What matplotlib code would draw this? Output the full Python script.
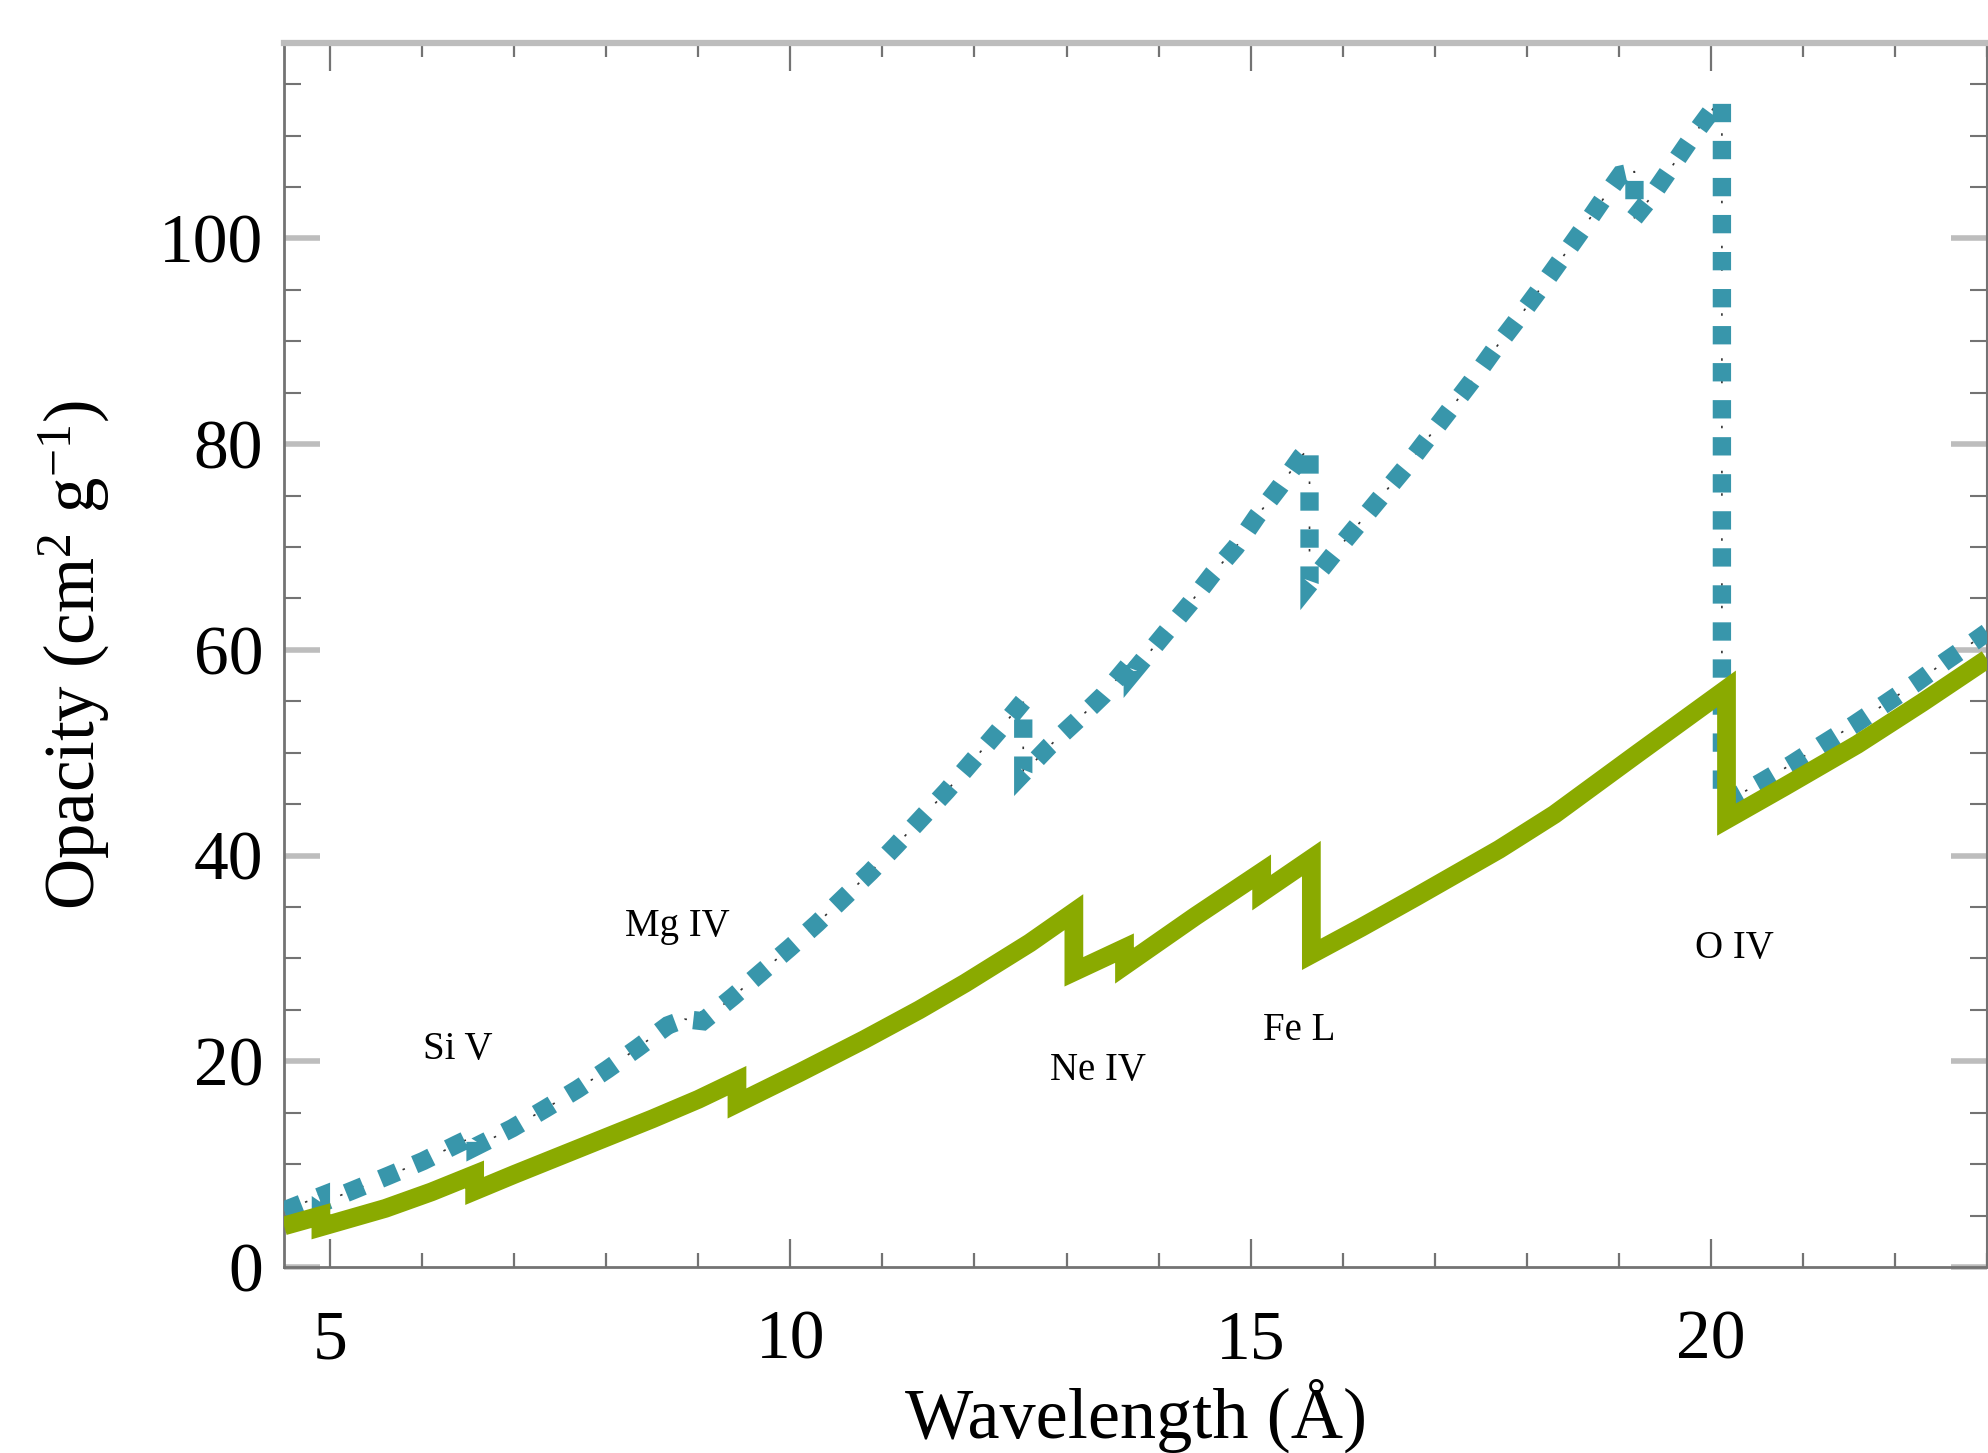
import matplotlib
matplotlib.use("Agg")
import matplotlib.pyplot as plt
from matplotlib.ticker import MultipleLocator


SERIF = ["Liberation Serif", "DejaVu Serif"]

GREEN = "#8aaa00"
BLUE = "#3896ab"
AXIS_GRAY = "#737373"
LIGHT_GRAY = "#bdbdbd"

# solid curve, absorption edges are repeated x values
GREEN_WAVE = [4.5, 4.9, 4.9, 5.6, 6.1, 6.57, 6.57, 7.0, 7.5, 8.0, 8.5, 9.0,
              9.42, 9.42, 10.1, 10.8, 11.4, 11.9, 12.6, 13.08, 13.08, 13.63,
              13.63, 14.4, 15.12, 15.12, 15.66, 15.66, 16.2, 16.8, 17.7, 18.3,
              19.2, 20.17, 20.17, 20.8, 21.59, 22.3, 23.0]
GREEN_OPACITY = [4.0, 5.0, 3.9, 5.7, 7.3, 9.0, 7.4, 9.0, 10.8, 12.6, 14.4, 16.3,
                 18.1, 15.9, 18.9, 22.1, 25.0, 27.6, 31.5, 34.5, 28.7, 31.0,
                 29.3, 34.1, 38.4, 36.4, 39.7, 30.4, 33.0, 36.0, 40.6, 44.0,
                 49.9, 56.2, 43.5, 46.7, 50.8, 54.9, 59.1]

# dotted curve
BLUE_WAVE = [4.5, 4.9, 4.9, 5.26, 5.64, 6.01, 6.37, 6.58, 6.58, 6.98, 7.34,
             7.69, 8.01, 8.34, 8.67, 8.85, 9.05, 9.38, 9.69, 9.99, 10.29,
             10.58, 10.87, 11.15, 11.42, 11.70, 11.96, 12.25, 12.53, 12.53,
             12.82, 13.11, 13.40, 13.72, 13.72, 14.08, 14.34, 14.59, 14.84,
             15.07, 15.32, 15.55, 15.64, 15.64, 15.90, 16.16, 16.41, 16.67,
             16.91, 17.16, 17.40, 17.64, 17.88, 18.12, 18.36, 18.59, 18.82,
             19.02, 19.17, 19.17, 19.34, 19.57, 19.80, 20.04, 20.12, 20.12,
             20.54, 20.88, 21.21, 21.55, 21.90, 22.23, 22.55, 22.89, 23.0]
BLUE_OPACITY = [5.5, 6.9, 6.2, 7.5, 8.9, 10.3, 11.9, 12.8, 11.7, 13.5, 15.4,
                17.3, 19.2, 21.3, 23.5, 24.1, 23.9, 26.3, 28.7, 31.0, 33.4,
                35.9, 38.4, 41.0, 43.6, 46.3, 49.0, 52.0, 55.0, 48.0,
                50.7, 53.1, 55.6, 59.0, 57.8, 61.7, 64.5, 67.4, 70.0,
                73.0, 75.9, 78.8, 79.7, 66.4, 69.3, 72.1, 74.8, 77.6,
                80.4, 83.3, 86.1, 89.1, 91.9, 94.8, 97.8, 100.7, 103.7,
                106.2, 106.5, 102.0, 103.9, 106.9, 109.9, 112.8, 113.3, 45.0,
                47.1, 48.9, 50.8, 52.7, 54.8, 56.8, 58.9, 61.0, 61.7]

EDGE_LABELS = ["Si V", "Mg IV", "Ne IV", "Fe L", "O IV"]
EDGE_LABEL_X = [6.39, 8.77, 13.34, 15.53, 20.26]
EDGE_LABEL_Y = [20.2, 32.2, 18.2, 22.1, 30.0]


def style_axes(ax) -> None:
    ax.set_xlim(4.5, 23.0)
    ax.set_ylim(0, 119)
    ax.xaxis.set_major_locator(MultipleLocator(5))
    ax.xaxis.set_minor_locator(MultipleLocator(1))
    ax.yaxis.set_major_locator(MultipleLocator(20))
    ax.yaxis.set_minor_locator(MultipleLocator(5))

    ax.tick_params(which="both", direction="in", top=True, right=True,
                   labelsize=50)
    ax.tick_params(axis="y", which="major", length=26, width=4,
                   color=LIGHT_GRAY, pad=15)
    ax.tick_params(axis="y", which="minor", length=12, width=1.5,
                   color=AXIS_GRAY)
    ax.tick_params(axis="x", which="major", length=20, width=1.6,
                   color=AXIS_GRAY, pad=31)
    ax.tick_params(axis="x", which="minor", length=10, width=1.6,
                   color=AXIS_GRAY)

    for side in ["left", "bottom"]:
        ax.spines[side].set_color(AXIS_GRAY)
        ax.spines[side].set_linewidth(2)
    ax.spines["right"].set_color(AXIS_GRAY)
    ax.spines["right"].set_linewidth(1.5)
    ax.spines["top"].set_color(LIGHT_GRAY)
    ax.spines["top"].set_linewidth(4.5)

    fig = ax.figure
    fig.canvas.draw()
    zero = ax.get_yticklabels()[0]
    zero.set_verticalalignment("baseline")


def main() -> None:
    plt.rcParams["font.family"] = SERIF
    plt.rcParams["mathtext.fontset"] = "custom"
    plt.rcParams["mathtext.rm"] = "Liberation Serif"
    plt.rcParams["mathtext.it"] = "Liberation Serif:italic"

    fig = plt.figure(figsize=(19.88, 14.53), dpi=100)
    ax = fig.add_axes([0.1429, 0.1280, 0.8566, 0.8424])

    ax.plot(BLUE_WAVE, BLUE_OPACITY, color="#333333", lw=1.2,
            dashes=(1.5, 12), zorder=2)
    ax.plot(BLUE_WAVE, BLUE_OPACITY, color=BLUE, lw=13.2, dashes=(1, 1.02),
            dash_capstyle="butt", dash_joinstyle="miter", zorder=3)
    ax.plot(GREEN_WAVE, GREEN_OPACITY, color=GREEN, lw=13.5,
            solid_capstyle="butt", solid_joinstyle="miter", zorder=4)

    for label, x, y in zip(EDGE_LABELS, EDGE_LABEL_X, EDGE_LABEL_Y):
        ax.text(x, y, label, fontsize=28, ha="center", va="baseline",
                zorder=5)

    style_axes(ax)

    ax.set_xlabel("Wavelength (Å)", fontsize=52)
    ax.xaxis.set_label_coords(0.5, -0.139)
    ax.xaxis.label.set_verticalalignment("baseline")
    ax.set_ylabel(r"Opacity (cm$^{2}$ g$^{-1}$)", fontsize=51)
    ax.yaxis.set_label_coords(-0.1233, 0.5)
    ax.yaxis.label.set_verticalalignment("center")
    ax.yaxis.label.set_horizontalalignment("center")

    fig.savefig("out.png", dpi=100)
    plt.close(fig)


if __name__ == "__main__":
    main()
